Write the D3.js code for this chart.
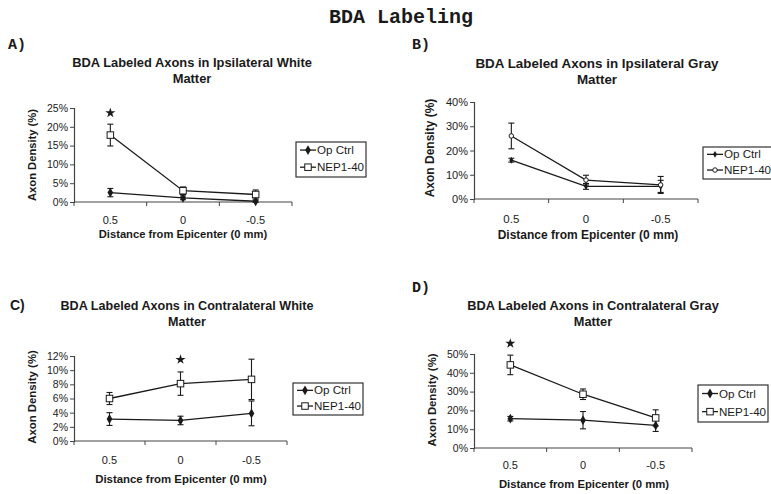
<!DOCTYPE html>
<html><head><meta charset="utf-8">
<script src="https://cdn.jsdelivr.net/npm/d3@7"></script>
<style>body{margin:0;background:#fff}svg{display:block}</style>
</head><body>
<svg id="chart" width="771" height="494"></svg>
<script>
// ---- data ----
const categories = ["0.5", "0", "-0.5"];
const seriesNames = ["Op Ctrl", "NEP1-40"];

const aTitle = ["BDA Labeled Axons in Ipsilateral White", "Matter"];
const aOp = [2.5, 1.1, 0.2], aOpErr = [1.1, 0.5, 0.3];
const aNep = [17.8, 3.0, 2.0], aNepErr = [2.9, 1.0, 1.2];
const aTicks = [0, 5, 10, 15, 20, 25];
const aStars = [{cat: "0.5", value: 23.7}];

const bTitle = ["BDA Labeled Axons in Ipsilateral Gray", "Matter"];
const bOp = [16.0, 5.2, 5.2], bOpErr = [0.8, 1.2, 2.5];
const bNep = [26.0, 7.8, 5.8], bNepErr = [5.3, 2.0, 3.5];
const bTicks = [0, 10, 20, 30, 40];
const bStars = [];

const cTitle = ["BDA Labeled Axons in Contralateral White", "Matter"];
const cOp = [3.1, 2.9, 3.9], cOpErr = [0.9, 0.6, 1.75];
const cNep = [6.0, 8.1, 8.7], cNepErr = [0.85, 1.65, 2.85];
const cTicks = [0, 2, 4, 6, 8, 10, 12];
const cStars = [{cat: "0", value: 11.5}];

const dTitle = ["BDA Labeled Axons in Contralateral Gray", "Matter"];
const dOp = [15.6, 14.8, 12.0], dOpErr = [1.2, 4.6, 3.2];
const dNep = [44.2, 28.6, 16.0], dNepErr = [5.2, 2.8, 4.3];
const dTicks = [0, 10, 20, 30, 40, 50];
const dStars = [{cat: "0.5", value: 55.6}];

const mainTitle = "BDA Labeling";
const xLabel = "Distance from Epicenter (0 mm)";
const yLabel = "Axon Density (%)";

// ---- drawing ----
const svg = d3.select("#chart");
const INK = "#1a1a1a";
const SANS = "'Liberation Sans', Arial, sans-serif";
const MONO = "'Liberation Mono', 'Courier New', monospace";

svg.append("text").attr("x", 401).attr("y", 23).attr("text-anchor", "middle")
  .attr("font-family", MONO).attr("font-weight", "bold").attr("font-size", 20)
  .attr("fill", INK).text(mainTitle);

function panel(cfg) {
  const g = svg.append("g");
  const x = d3.scaleBand().domain(categories).range([cfg.x0, cfg.x1]);
  const yMax = d3.max(cfg.ticks);
  const y = d3.scaleLinear().domain([0, yMax]).range([cfg.yBot, cfg.yTop]);

  // panel letter
  g.append("text").attr("x", cfg.lx).attr("y", cfg.ly)
    .attr("font-family", cfg.letterFont).attr("font-weight", "bold").attr("font-size", cfg.letterSize)
    .attr("fill", INK).text(cfg.letter);

  // title
  cfg.title.forEach((t, i) => {
    g.append("text").attr("x", cfg.tx).attr("y", cfg.ty + i * 15.5).attr("text-anchor", "middle")
      .attr("font-family", SANS).attr("font-weight", "bold").attr("font-size", cfg.titleSize)
      .attr("fill", INK).text(t);
  });

  // y axis
  const ya = g.append("g").attr("transform", `translate(${cfg.x0},0)`)
    .call(d3.axisLeft(y).tickValues(cfg.ticks).tickFormat(d => d + "%").tickSizeOuter(0).tickSize(4));
  ya.select(".domain").attr("stroke", "#444").attr("stroke-width", 1.2);
  ya.selectAll(".tick line").attr("stroke", "#444");
  ya.selectAll(".tick text").attr("font-family", SANS).attr("font-size", cfg.tickSize).attr("fill", INK).attr("x", -6);

  // x axis: line with ticks at band boundaries
  const xa = g.append("g");
  xa.append("line").attr("x1", cfg.x0).attr("x2", cfg.x1).attr("y1", cfg.yBot).attr("y2", cfg.yBot)
    .attr("stroke", "#444").attr("stroke-width", 1.2);
  const bounds = categories.map(c => x(c)).concat([x(categories[categories.length - 1]) + x.bandwidth()]);
  xa.selectAll("line.tk").data(bounds).join("line").attr("class", "tk")
    .attr("x1", d => d).attr("x2", d => d).attr("y1", cfg.yBot).attr("y2", cfg.yBot + 4)
    .attr("stroke", "#444");
  xa.selectAll("text.cl").data(categories).join("text").attr("class", "cl")
    .attr("x", d => x(d) + x.bandwidth() / 2).attr("y", cfg.tickY).attr("text-anchor", "middle")
    .attr("font-family", SANS).attr("font-size", cfg.tickSize + 0.5).attr("fill", INK).text(d => d);

  // axis labels
  g.append("text").attr("x", cfg.xlx).attr("y", cfg.xly).attr("text-anchor", "middle")
    .attr("font-family", SANS).attr("font-weight", "bold").attr("font-size", cfg.labelSize)
    .attr("fill", INK).text(xLabel);
  g.append("text").attr("transform", `translate(${cfg.ylx},${cfg.yly}) rotate(-90)`)
    .attr("text-anchor", "middle").attr("font-family", SANS).attr("font-weight", "bold")
    .attr("font-size", cfg.labelSize).attr("fill", INK).text(yLabel);

  const cx = c => x(c) + x.bandwidth() / 2;
  const series = [
    {name: seriesNames[0], vals: cfg.op, errs: cfg.opErr, kind: "op"},
    {name: seriesNames[1], vals: cfg.nep, errs: cfg.nepErr, kind: "nep"}
  ];
  const line = d3.line().x(d => cx(d.c)).y(d => y(d.v));

  function marker(sel, kind, px, py) {
    const s = cfg.mSize;
    if (kind === "op") {
      sel.append("path").attr("transform", `translate(${px},${py})`)
        .attr("d", d3.symbol(d3.symbolDiamond, cfg.opArea)()).attr("fill", INK);
    } else if (cfg.nepShape === "circle") {
      sel.append("circle").attr("cx", px).attr("cy", py).attr("r", s / 2)
        .attr("fill", "#fff").attr("stroke", INK).attr("stroke-width", 1);
    } else {
      sel.append("rect").attr("x", px - s / 2).attr("y", py - s / 2).attr("width", s).attr("height", s)
        .attr("fill", "#fff").attr("stroke", INK).attr("stroke-width", 1);
    }
  }

  series.forEach(sr => {
    const pts = categories.map((c, i) => ({c, v: sr.vals[i], e: sr.errs[i]}));
    // error bars
    pts.forEach(p => {
      const eg = g.append("g").attr("stroke", INK).attr("stroke-width", 1.1);
      eg.append("line").attr("x1", cx(p.c)).attr("x2", cx(p.c)).attr("y1", y(p.v - p.e)).attr("y2", y(p.v + p.e));
      [p.v - p.e, p.v + p.e].forEach(v => {
        eg.append("line").attr("x1", cx(p.c) - 3).attr("x2", cx(p.c) + 3).attr("y1", y(v)).attr("y2", y(v));
      });
    });
    g.append("path").datum(pts).attr("d", line).attr("fill", "none")
      .attr("stroke", INK).attr("stroke-width", 1.3);
    pts.forEach(p => marker(g, sr.kind, cx(p.c), y(p.v)));
  });

  // significance stars
  cfg.stars.forEach(st => {
    g.append("path").attr("transform", `translate(${cx(st.cat)},${y(st.value)})`)
      .attr("d", d3.symbol(d3.symbolStar, 32)()).attr("fill", INK);
  });

  // legend
  const L = cfg.legend;
  g.append("rect").attr("x", L.x).attr("y", L.y).attr("width", L.w).attr("height", L.h)
    .attr("fill", "#fff").attr("stroke", "#333").attr("stroke-width", 1.2);
  series.forEach((sr, i) => {
    const ly = L.y + L.h * (i === 0 ? 0.23 : 0.72);
    g.append("line").attr("x1", L.x + 4).attr("x2", L.x + 20).attr("y1", ly).attr("y2", ly)
      .attr("stroke", INK).attr("stroke-width", 1.3);
    marker(g, sr.kind, L.x + 12, ly);
    g.append("text").attr("x", L.x + 21).attr("y", ly + 4).attr("font-family", SANS)
      .attr("font-size", 11.6).attr("fill", INK).text(sr.name);
  });
}

panel({letter: "A)", lx: 8, ly: 49, letterFont: MONO, letterSize: 15,
  title: aTitle, tx: 192, ty: 67, titleSize: 12.9, tickSize: 10.5, labelSize: 11.2,
  x0: 74, x1: 292, yTop: 108, yBot: 202, ticks: aTicks,
  op: aOp, opErr: aOpErr, nep: aNep, nepErr: aNepErr, stars: aStars,
  tickY: 224, xlx: 183, xly: 238, ylx: 36, yly: 155,
  mSize: 6.5, opArea: 28, nepShape: "square",
  legend: {x: 296, y: 142, w: 70, h: 35}});

panel({letter: "B)", lx: 412, ly: 49, letterFont: MONO, letterSize: 15,
  title: bTitle, tx: 597, ty: 68, titleSize: 13.4, tickSize: 11, labelSize: 12,
  x0: 474, x1: 698, yTop: 102, yBot: 199, ticks: bTicks,
  op: bOp, opErr: bOpErr, nep: bNep, nepErr: bNepErr, stars: bStars,
  tickY: 223, xlx: 588, xly: 239, ylx: 434, yly: 148,
  mSize: 4.5, opArea: 14, nepShape: "circle",
  legend: {x: 703, y: 147, w: 70, h: 32}});

panel({letter: "C)", lx: 10, ly: 310, letterFont: SANS, letterSize: 14,
  title: cTitle, tx: 187, ty: 310, titleSize: 12.6, tickSize: 10.5, labelSize: 11.4,
  x0: 74, x1: 287, yTop: 356, yBot: 441, ticks: cTicks,
  op: cOp, opErr: cOpErr, nep: cNep, nepErr: cNepErr, stars: cStars,
  tickY: 464, xlx: 181, xly: 483, ylx: 36, yly: 397,
  mSize: 6.5, opArea: 28, nepShape: "square",
  legend: {x: 293, y: 383, w: 70, h: 32}});

panel({letter: "D)", lx: 412, ly: 292, letterFont: MONO, letterSize: 15,
  title: dTitle, tx: 593, ty: 310, titleSize: 12.8, tickSize: 10.5, labelSize: 11.3,
  x0: 474, x1: 692, yTop: 354, yBot: 448, ticks: dTicks,
  op: dOp, opErr: dOpErr, nep: dNep, nepErr: dNepErr, stars: dStars,
  tickY: 469, xlx: 584, xly: 488, ylx: 436, yly: 400,
  mSize: 6.5, opArea: 28, nepShape: "square",
  legend: {x: 698, y: 385, w: 70, h: 37}});
</script>
</body></html>
